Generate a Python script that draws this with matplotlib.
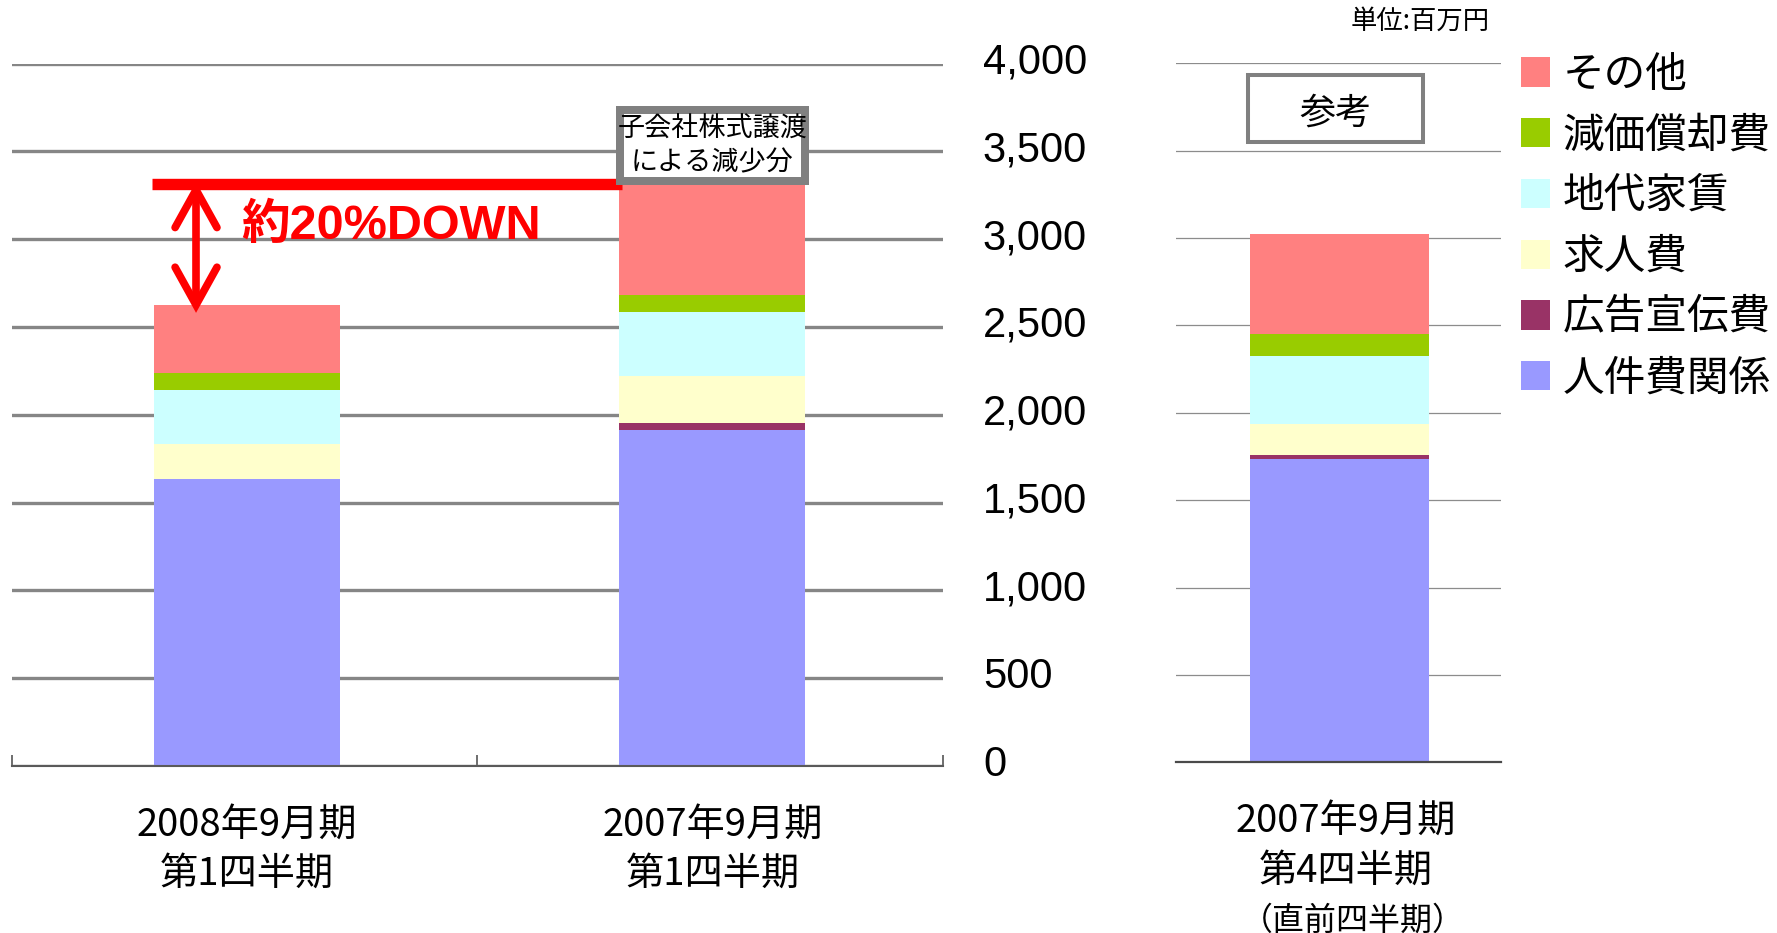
import matplotlib
matplotlib.use('Agg')
import matplotlib.pyplot as plt
from matplotlib.patches import Rectangle
from matplotlib.transforms import ScaledTranslation
import numpy as np

plt.rcParams['font.family'] = ['Noto Sans CJK JP', 'DejaVu Sans']

W, H = 1777, 933

# ---------------- data ----------------
categories_main = ['2008年9月期\n第1四半期', '2007年9月期\n第1四半期']
category_ref = ['2007年9月期\n第4四半期']
category_ref_note = '（直前四半期）'

series = ['人件費関係', '広告宣伝費', '求人費', '地代家賃', '減価償却費', 'その他']
colors = ['#9999FF', '#993366', '#FFFFCC', '#CCFFFF', '#99CC00', '#FF8080']

personnel = [1634, 1913]
advertising = [0, 40]
recruiting = [201, 270]
rent = [306, 362]
depreciation = [97, 95]
other = [387, 635]

ref_personnel = [1737]
ref_advertising = [19]
ref_recruiting = [180]
ref_rent = [387]
ref_depreciation = [128]
ref_other = [571]

yticks = [0, 500, 1000, 1500, 2000, 2500, 3000, 3500, 4000]
ytick_labels = ['0', '500', '1,000', '1,500', '2,000', '2,500', '3,000', '3,500', '4,000']

unit_label = '単位:百万円'
ref_label = '参考'
note_label = '子会社株式譲渡\nによる減少分'
down_label = '約20%DOWN'

main_values = [personnel, advertising, recruiting, rent, depreciation, other]
ref_values = [ref_personnel, ref_advertising, ref_recruiting, ref_rent, ref_depreciation, ref_other]


def fig_rect(x, y, w, h):
    """pixel box (top-left origin) -> figure fraction"""
    return [x / W, 1 - (y + h) / H, w / W, h / H]


fig = plt.figure(figsize=(W / 100, H / 100), dpi=100)

# ---------------- main chart ----------------
ax1 = fig.add_axes(fig_rect(12.3, 63.5, 930.3, 702.5))
xpos = np.arange(len(categories_main))
bottom = np.zeros(len(categories_main))
handles = []
for vals, c, name in zip(main_values, colors, series):
    b = ax1.bar(xpos, vals, width=0.4, bottom=bottom, color=c, label=name, zorder=2)
    handles.append(b)
    bottom += np.array(vals)
totals = bottom

ax1.set_xlim(-0.505, 1.495)
ax1.set_ylim(0, 4000)
ax1.set_yticks(yticks, ytick_labels, fontsize=30, fontfamily='Liberation Sans')
ax1.yaxis.tick_right()
ax1.tick_params(axis='y', length=0, pad=29)
up = ScaledTranslation(0, 5.5 / 100, fig.dpi_scale_trans)
for lbl in ax1.get_yticklabels():
    lbl.set_transform(lbl.get_transform() + up)
ax1.yaxis.grid(True, color='#868686', lw=2.4)
ax1.set_axisbelow(True)
ax1.set_xticks(xpos, categories_main, fontsize=27.5, linespacing=1.35)
ax1.set_xticks([-0.505, 0.495, 1.495], minor=True)
ax1.tick_params(axis='x', which='major', length=0, pad=28.5)
ax1.tick_params(axis='x', which='minor', direction='in', length=8, width=1.2, color='#555555')
for s in ['top', 'left', 'right']:
    ax1.spines[s].set_visible(False)
ax1.spines['bottom'].set_color('#5a5a5a')
ax1.spines['bottom'].set_linewidth(1.5)
ax1.spines['bottom'].set_zorder(3)

# red reference line & double arrow
ax1.plot([-0.205, 0.805], [totals[1], totals[1]], color='red', lw=8.2,
         solid_capstyle='butt', zorder=5, clip_on=False)
xa = -0.11
top = totals[1] - 34
bot = totals[0]
dx, dy = 0.045, 215
ax1.plot([xa, xa], [bot + 5, top - 5], color='red', lw=5.5, solid_capstyle='butt', zorder=5)
ax1.plot([xa - dx, xa, xa + dx], [top - dy, top, top - dy], color='red', lw=5.5,
         solid_capstyle='round', solid_joinstyle='miter', zorder=5)
ax1.plot([xa - dx, xa, xa + dx], [bot + dy, bot, bot + dy], color='red', lw=5.5,
         solid_capstyle='round', solid_joinstyle='miter', zorder=5)
ax1.text(-0.012, 3075, down_label, color='red', fontsize=35, weight='bold',
         family=['Liberation Sans', 'Noto Sans CJK JP'], ha='left', va='center', zorder=6)

# ---------------- reference chart ----------------
ax2 = fig.add_axes(fig_rect(1176, 63.3, 324.7, 699))
bottom2 = np.zeros(1)
for vals, c in zip(ref_values, colors):
    ax2.bar([0], vals, width=0.55, bottom=bottom2, color=c, zorder=2)
    bottom2 += np.array(vals)
ax2.set_xlim(-0.503, 0.497)
ax2.set_ylim(0, 4000)
ax2.set_yticks(yticks)
ax2.tick_params(axis='y', length=0, labelleft=False)
ax2.yaxis.grid(True, color='#8c8c8c', lw=0.9)
ax2.set_axisbelow(True)
ax2.set_xticks([0], category_ref, fontsize=27.5, linespacing=1.35)
ax2.tick_params(axis='x', length=0, pad=28.5)
right_shift = ScaledTranslation(6 / 100, 0, fig.dpi_scale_trans)
for lbl in ax2.get_xticklabels():
    lbl.set_transform(lbl.get_transform() + right_shift)
ax2.text(0, -(920.5 - 762.3) / 699, category_ref_note,
         transform=ax2.get_xaxis_transform() + ScaledTranslation(14 / 100, 0, fig.dpi_scale_trans),
         ha='center', va='center', fontsize=23)
for s in ['top', 'left', 'right']:
    ax2.spines[s].set_visible(False)
ax2.spines['bottom'].set_color('#4a4a4a')
ax2.spines['bottom'].set_linewidth(1.6)

# ---------------- annotation boxes ----------------
fig.add_artist(Rectangle((620 / W, 1 - 181 / H), 185 / W, 71 / H, transform=fig.transFigure,
                         fc='white', ec='#808080', lw=5.76, zorder=10))
fig.text(712.5 / W, 1 - 146 / H, note_label, ha='center', va='center', fontsize=19.5,
         linespacing=1.3, zorder=11)

fig.add_artist(Rectangle((1247.7 / W, 1 - 142.3 / H), 175.6 / W, 67.6 / H, transform=fig.transFigure,
                         fc='white', ec='#808080', lw=2.9, zorder=10))
fig.text(1335.5 / W, 1 - 113.5 / H, ref_label, ha='center', va='center', fontsize=26, zorder=11)

fig.text(1490 / W, 1 - 21.7 / H, unit_label, ha='right', va='center', fontsize=19)

# ---------------- legend ----------------
fig.legend(handles[::-1], series[::-1], loc='upper left',
           bbox_to_anchor=(1521 / W, 1 - 54.5 / H), frameon=False, fontsize=30,
           handlelength=0.7, handleheight=0.7, handletextpad=0.29, labelspacing=0.475,
           borderpad=0, borderaxespad=0)

fig.savefig('out.png', dpi=100)
